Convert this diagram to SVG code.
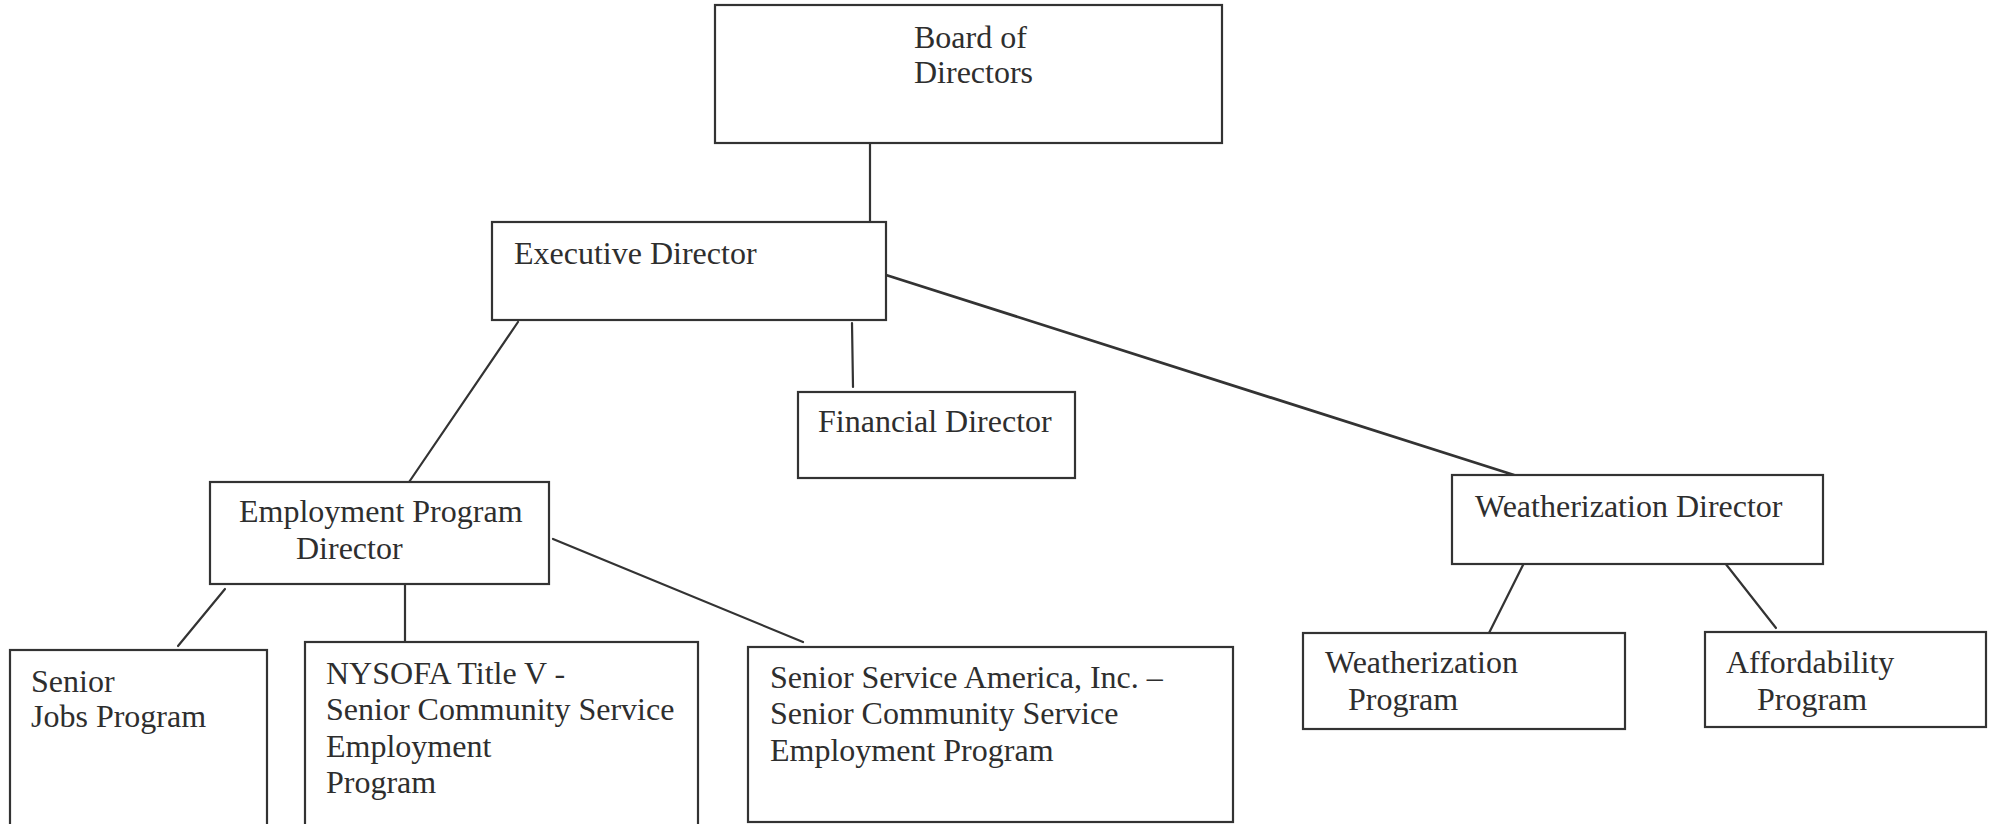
<svg xmlns="http://www.w3.org/2000/svg" width="1993" height="824" viewBox="0 0 1993 824">
<style>
.box{fill:#fff;stroke:#333;stroke-width:2.2}
.t{font-family:"Liberation Serif","Times New Roman",serif;font-size:32px;fill:#2e2e2e}
.c{fill:none;stroke:#333;stroke-width:2.2;stroke-linecap:round}
</style>
<rect width="1993" height="824" fill="#fff"/>
<g id="connectors">
<line class="c" x1="870" y1="143" x2="870" y2="222"/>
<line class="c" x1="852" y1="323" x2="853" y2="387"/>
<line class="c" x1="518" y1="322" x2="405" y2="488"/>
<line class="c" x1="886" y1="275" x2="1514" y2="475" style="stroke-width:2.8"/>
<line class="c" x1="225" y1="589" x2="178" y2="646"/>
<line class="c" x1="405" y1="585" x2="405" y2="642"/>
<line class="c" x1="553" y1="539" x2="803" y2="642"/>
<line class="c" x1="1525" y1="561" x2="1487" y2="637"/>
<line class="c" x1="1725" y1="563" x2="1776" y2="628"/>
</g>
<g id="board">
<rect class="box" x="715" y="5" width="507" height="138"/>
<text class="t" x="914" y="48">Board of</text>
<text class="t" x="914" y="83">Directors</text>
</g>
<g id="executive">
<rect class="box" x="492" y="222" width="394" height="98"/>
<text class="t" x="514" y="264">Executive Director</text>
</g>
<g id="financial">
<rect class="box" x="798" y="392" width="277" height="86"/>
<text class="t" x="818" y="432">Financial Director</text>
</g>
<g id="employment">
<rect class="box" x="210" y="482" width="339" height="102"/>
<text class="t" x="239" y="522">Employment Program</text>
<text class="t" x="296" y="559">Director</text>
</g>
<g id="seniorjobs">
<rect class="box" x="10" y="650" width="257" height="190"/>
<text class="t" x="31" y="692">Senior</text>
<text class="t" x="31" y="727">Jobs Program</text>
</g>
<g id="nysofa">
<rect class="box" x="305" y="642" width="393" height="200"/>
<text class="t" x="326" y="684">NYSOFA Title V -</text>
<text class="t" x="326" y="720">Senior Community Service</text>
<text class="t" x="326" y="757">Employment</text>
<text class="t" x="326" y="793">Program</text>
</g>
<g id="ssa">
<rect class="box" x="748" y="647" width="485" height="175"/>
<text class="t" x="770" y="688">Senior Service America, Inc. –</text>
<text class="t" x="770" y="724">Senior Community Service</text>
<text class="t" x="770" y="761">Employment Program</text>
</g>
<g id="weatherization-director">
<rect class="box" x="1452" y="475" width="371" height="89"/>
<text class="t" x="1475" y="517">Weatherization Director</text>
</g>
<g id="weatherization-program">
<rect class="box" x="1303" y="633" width="322" height="96"/>
<text class="t" x="1325" y="673">Weatherization</text>
<text class="t" x="1348" y="710">Program</text>
</g>
<g id="affordability">
<rect class="box" x="1705" y="632" width="281" height="95"/>
<text class="t" x="1726" y="673">Affordability</text>
<text class="t" x="1757" y="710">Program</text>
</g>
</svg>
